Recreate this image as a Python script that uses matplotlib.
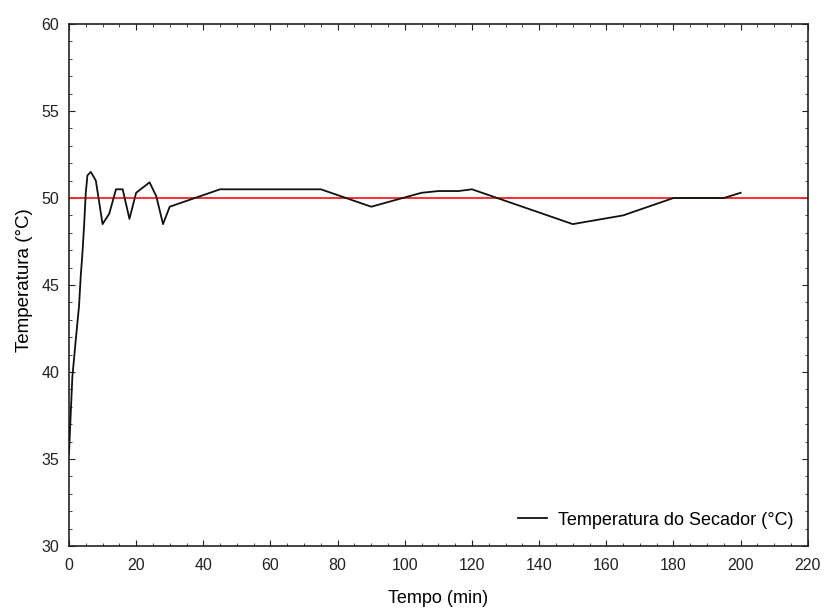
import matplotlib
matplotlib.use("Agg")
import matplotlib.pyplot as plt
from matplotlib.ticker import MultipleLocator
from matplotlib import font_manager

plt.rcParams['font.family'] = ['Liberation Sans', 'DejaVu Sans']

tempo = [0, 0.5, 1, 2, 3, 3.5, 4, 4.5, 5, 5.5, 6.5, 8, 10, 12, 14, 16, 18, 20, 24, 26, 28, 30,
         45, 75, 90, 105, 110, 116, 120, 150, 165, 180, 195, 200]
temperatura = [35.3, 37.5, 39.7, 41.8, 43.8, 45.5, 46.8, 48.4, 50.3, 51.3, 51.5, 51.0, 48.5, 49.1,
               50.5, 50.5, 48.8, 50.3, 50.9, 50.1, 48.5, 49.5,
               50.5, 50.5, 49.5, 50.3, 50.4, 50.4, 50.5, 48.5, 49.0, 50.0, 50.0, 50.3]
setpoint = 50
serie_label = "Temperatura do Secador (°C)"

names = {f.name for f in font_manager.fontManager.ttflist}
narrow = 'Liberation Sans Narrow' if 'Liberation Sans Narrow' in names else 'Liberation Sans'
tick_size = 13 if narrow == 'Liberation Sans Narrow' else 11.5

fig = plt.figure(figsize=(8.26, 6.11), dpi=100)
ax = fig.add_axes([0.0835, 0.1064, 0.8945, 0.8543])

ax.axhline(setpoint, color='#ff2020', lw=1.3, zorder=2)
ax.plot(tempo, temperatura, color='#111111', lw=1.3, label=serie_label, zorder=3)

ax.set_xlim(0, 220)
ax.set_ylim(30, 60)
ax.xaxis.set_major_locator(MultipleLocator(20))
ax.xaxis.set_minor_locator(MultipleLocator(5))
ax.yaxis.set_major_locator(MultipleLocator(5))
ax.yaxis.set_minor_locator(MultipleLocator(1))
ax.tick_params(which='both', direction='in', top=True, right=True, colors='#222222')
ax.tick_params(which='major', length=4)
ax.tick_params(which='minor', length=2)
ax.tick_params(axis='x', pad=9)
ax.tick_params(axis='y', pad=7)
for lab in ax.get_xticklabels() + ax.get_yticklabels():
    lab.set_fontfamily([narrow, 'DejaVu Sans'])
    lab.set_fontsize(tick_size)
for s in ax.spines.values():
    s.set_linewidth(1.2)
    s.set_color('#222222')

ax.set_xlabel("Tempo (min)", fontsize=13, labelpad=12, family=[narrow, 'DejaVu Sans'])
ax.set_ylabel("Temperatura (°C)", fontsize=13.5, labelpad=6)
ax.yaxis.label.set_y(0.51)

ax.legend(loc='lower right', frameon=False, fontsize=13, handlelength=1.6,
          handletextpad=0.6, bbox_to_anchor=(1.002, 0.002))

fig.savefig("out.png", dpi=100)
